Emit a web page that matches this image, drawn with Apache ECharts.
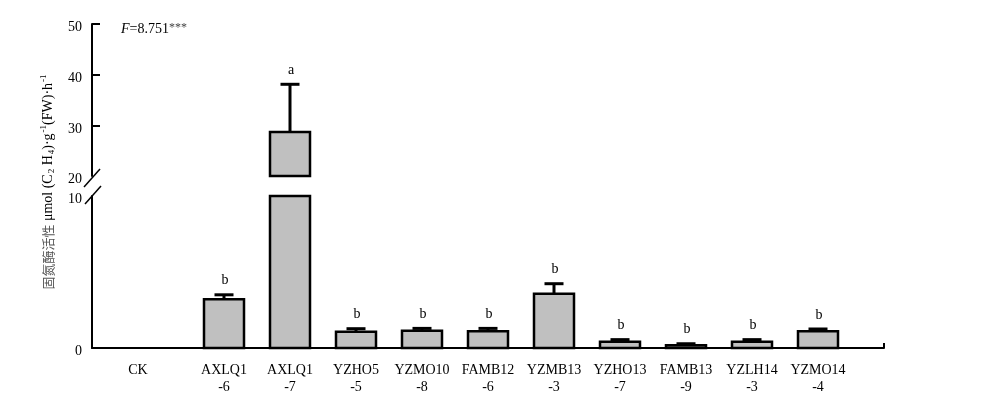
<!DOCTYPE html>
<html>
<head>
    <meta charset="utf-8">
    <title>固氮酶活性</title>
    <script src="https://cdn.jsdelivr.net/npm/echarts@6.0.0/dist/echarts.min.js"></script>
    <style>
        html, body { margin: 0; padding: 0; background: #fff; }
        #main { width: 1000px; height: 397px; }
    </style>
</head>
<body>
    <div id="main"></div>
    <script type="text/javascript">
        // 菌株名称
        var categories = ['CK', 'AXLQ1\n-6', 'AXLQ1\n-7', 'YZHO5\n-5', 'YZMO10\n-8', 'FAMB12\n-6',
            'YZMB13\n-3', 'YZHO13\n-7', 'FAMB13\n-9', 'YZLH14\n-3', 'YZMO14\n-4'];
        // 平均值与标准误
        var means = [0, 3.2, 28.7, 1.07, 1.14, 1.1, 3.57, 0.41, 0.18, 0.41, 1.1];
        var errors = [0, 0.3, 9.4, 0.2, 0.15, 0.19, 0.66, 0.14, 0.1, 0.14, 0.15];
        // 显著性字母
        var letters = ['', 'b', 'a', 'b', 'b', 'b', 'b', 'b', 'b', 'b', 'b'];
        // 断轴刻度
        var upperLabels = [20, 30, 40, 50];
        var upperTicks = [30, 40, 50];
        var lowerLabels = [0, 10];

        var serif = '"Liberation Serif", "DejaVu Serif", serif';
        var axisData = [''].concat(categories, ['']);
        var seriesData = means.map(function (v, i) { return [i + 1, v, errors[i], letters[i]]; });

        // 每个坐标系各画自己那一段柱子、误差线
        function makeSeries(idx, lo, hi) {
            return {
                type: 'custom',
                xAxisIndex: idx,
                yAxisIndex: idx,
                clip: false,
                data: seriesData,
                renderItem: function (params, api) {
                    var i = api.value(0), v = api.value(1), e = api.value(2);
                    var letter = letters[i - 1];
                    var children = [];
                    var half = 20;
                    if (v > lo) {
                        var p0 = api.coord([i, lo]);
                        var p1 = api.coord([i, Math.min(v, hi)]);
                        children.push({
                            type: 'rect',
                            shape: { x: p0[0] - half, y: p1[1], width: half * 2, height: p0[1] - p1[1] },
                            style: { fill: '#c0c0c0', stroke: '#000', lineWidth: 2.5 }
                        });
                    }
                    var top = v + e;
                    if (v > 0 && top >= lo && top <= hi) {
                        var b = api.coord([i, v]);
                        var t = api.coord([i, top]);
                        children.push({
                            type: 'line',
                            shape: { x1: b[0], y1: b[1], x2: t[0], y2: t[1] },
                            style: { stroke: '#000', lineWidth: 3 }
                        });
                        children.push({
                            type: 'line',
                            shape: { x1: t[0] - 9.5, y1: t[1], x2: t[0] + 9.5, y2: t[1] },
                            style: { stroke: '#000', lineWidth: 3 }
                        });
                        if (letter) {
                            children.push({
                                type: 'text',
                                style: {
                                    text: letter, x: t[0] + 1, y: t[1] - 14,
                                    align: 'center', verticalAlign: 'middle',
                                    fill: '#000', font: '14px ' + serif
                                }
                            });
                        }
                    }
                    return { type: 'group', children: children };
                }
            };
        }

        var lineStyle = { color: '#000', width: 2 };
        // 刻度标签比刻度略低几个像素
        function yLabel(values) {
            return {
                customValues: values, margin: 10,
                formatter: function (v) { return '{a|' + v + '}'; },
                rich: { a: { color: '#000', fontSize: 14, fontFamily: serif, padding: [7, 0, 0, 0] } }
            };
        }

        var myChart = echarts.init(document.getElementById('main'));

        var option = {
            backgroundColor: '#fff',
            animation: false,
            grid: [
                { left: 92, right: 116, top: 24, height: 152, outerBoundsMode: 'none' },
                { left: 92, right: 116, top: 196, bottom: 49, outerBoundsMode: 'none' }
            ],
            xAxis: [
                { gridIndex: 0, type: 'category', boundaryGap: false, data: axisData, show: false },
                {
                    gridIndex: 1, type: 'category', boundaryGap: false, data: axisData,
                    axisLine: { lineStyle: lineStyle },
                    axisTick: {
                        interval: function (index) { return index === axisData.length - 1; },
                        inside: true, length: 5, lineStyle: lineStyle
                    },
                    axisLabel: {
                        interval: 0, margin: 14, lineHeight: 17,
                        color: '#000', fontSize: 14, fontFamily: serif,
                        formatter: function (v) { return v === 'CK' ? '{ck|CK}' : v; },
                        rich: { ck: { padding: [0, 40, 0, 0], fontSize: 14, fontFamily: serif, color: '#000' } }
                    }
                }
            ],
            yAxis: [
                {
                    gridIndex: 0, type: 'value', min: 20, max: 50, interval: 10,
                    axisLine: { show: true, lineStyle: lineStyle },
                    axisTick: { show: true, inside: true, length: 8, customValues: upperTicks, lineStyle: lineStyle },
                    axisLabel: yLabel(upperLabels),
                    splitLine: { show: false }
                },
                {
                    gridIndex: 1, type: 'value', min: 0, max: 10, interval: 10,
                    axisLine: { show: true, lineStyle: lineStyle },
                    axisTick: { show: false },
                    axisLabel: yLabel(lowerLabels),
                    splitLine: { show: false }
                }
            ],
            series: [makeSeries(0, 20, 50), makeSeries(1, 0, 10)]
        };

        myChart.setOption(option);

        // 断轴斜线
        var pUp = myChart.convertToPixel({ xAxisIndex: 0, yAxisIndex: 0 }, [0, upperLabels[0]]);
        var pLow = myChart.convertToPixel({ xAxisIndex: 1, yAxisIndex: 1 }, [0, lowerLabels[1]]);
        function slash(p) {
            return {
                type: 'line',
                shape: { x1: p[0] - 8, y1: p[1] + 9, x2: p[0] + 8, y2: p[1] - 9 },
                style: { stroke: '#000', lineWidth: 1.5 }
            };
        }

        myChart.setOption({
            graphic: [
                slash([pUp[0], pUp[1] + 2]),
                slash([pLow[0] + 1, pLow[1] - 1]),
                {
                    type: 'text', x: 48, y: 182, rotation: Math.PI / 2,
                    style: {
                        text: '{cn|固氮酶活性} {t|μmol (C}{sub|2}{t| H}{sub|4}{t|)·g}{sup|-1}{t|(FW)·h}{sup|-1}',
                        align: 'center', verticalAlign: 'middle',
                        font: '14px ' + serif, fill: '#000',
                        rich: {
                            cn: { fontSize: 13, fontFamily: '"Noto Sans CJK SC", sans-serif', fill: '#555', color: '#555' },
                            t: { fontSize: 14, fontFamily: serif },
                            sub: { fontSize: 9, fontFamily: serif, padding: [7, 0, 0, 1] },
                            sup: { fontSize: 9, fontFamily: serif, padding: [0, 0, 8, 1] }
                        }
                    }
                },
                {
                    type: 'text', x: 121, y: 29,
                    style: {
                        text: '{i|F}{t|=8.751}{s|***}',
                        align: 'left', verticalAlign: 'middle',
                        font: '14px ' + serif, fill: '#000',
                        rich: {
                            i: { fontSize: 14, fontStyle: 'italic', fontFamily: serif },
                            t: { fontSize: 14, fontFamily: serif },
                            s: { fontSize: 12, fontFamily: serif, fill: '#444', color: '#444', padding: [0, 0, 3, 0] }
                        }
                    }
                }
            ]
        });
    </script>
</body>
</html>
